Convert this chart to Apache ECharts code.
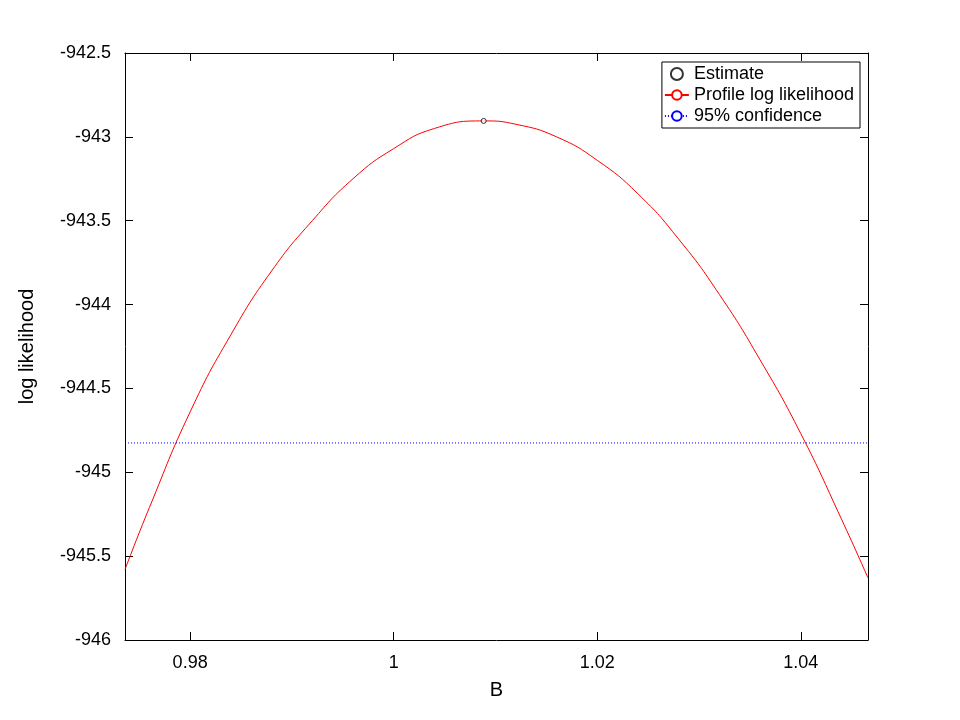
<!DOCTYPE html>
<html><head><meta charset="utf-8">
<script src="https://cdn.jsdelivr.net/npm/echarts@6/dist/echarts.min.js"></script>
<style>html,body{margin:0;padding:0;background:#fff}#c{width:960px;height:720px}</style>
</head><body><div id="c"></div>
<script>
const bValues = [0.9736,0.976,0.980,0.984,0.988,0.992,0.996,1.000,1.004,1.00884,1.012,1.016,1.020,1.024,1.028,1.032,1.036,1.040,1.044,1.0466];
const logLik = [-945.58,-945.21,-944.64,-944.18,-943.80,-943.50,-943.25,-943.07,-942.95,-942.905,-942.925,-943.00,-943.14,-943.34,-943.61,-943.94,-944.33,-944.77,-945.28,-945.63];
const estimate = [1.00884, -942.905];
const confLevel = -944.825;
const xRange = [0.9736, 1.0466];
const xTicks = [0.98, 1.00, 1.02, 1.04];
const yRange = [-946, -942.5];

const font = 'Liberation Sans, Arial, sans-serif';
const axisCommon = {
  axisLine:{show:true,onZero:false,lineStyle:{color:'#000',width:1}},
  axisTick:{show:true,inside:true,length:8,lineStyle:{color:'#000'}},
  splitLine:{show:false}
};
const chart = echarts.init(document.getElementById('c'));
chart.setOption({
  animation:false,
  backgroundColor:'#fff',
  grid:{left:125,right:92,top:53,bottom:80},
  legend:{
    right:100, top:62, orient:'vertical', itemGap:3, itemWidth:24, itemHeight:12,
    borderColor:'#000', borderWidth:1, padding:[3,6,3,2], borderRadius:0,
    textStyle:{fontFamily:font,fontSize:18,color:'#000'},
    data:[{name:'Estimate',icon:'circle'},{name:'Profile log likelihood'},{name:'95% confidence'}]
  },
  xAxis:[
    Object.assign({type:'value',min:xRange[0],max:xRange[1],name:'B',nameLocation:'middle',nameGap:40,
      nameTextStyle:{fontFamily:font,fontSize:20,color:'#000'},
      axisLabel:{customValues:xTicks,fontFamily:font,fontSize:18,color:'#000',margin:14,formatter:v=>String(+v.toFixed(2))}},axisCommon,
      {axisTick:Object.assign({},axisCommon.axisTick,{customValues:xTicks})}),
    Object.assign({type:'value',position:'top',min:xRange[0],max:xRange[1],axisLabel:{show:false}},axisCommon,
      {axisTick:Object.assign({},axisCommon.axisTick,{customValues:xTicks})})
  ],
  yAxis:[
    Object.assign({type:'value',min:yRange[0],max:yRange[1],interval:0.5,name:'log likelihood',nameLocation:'middle',nameGap:88,
      nameTextStyle:{fontFamily:font,fontSize:20,color:'#000'},
      axisLabel:{fontFamily:font,fontSize:18,color:'#000',margin:14}},axisCommon),
    Object.assign({type:'value',position:'right',min:yRange[0],max:yRange[1],interval:0.5,axisLabel:{show:false}},axisCommon)
  ],
  series:[
    {name:'Estimate',type:'scatter',data:[estimate],symbol:'circle',symbolSize:5,
      itemStyle:{color:'#fff',borderColor:'#000',borderWidth:1},z:5},
    {name:'Profile log likelihood',type:'line',smooth:true,showSymbol:false,
      data:bValues.map((b,i)=>[b,logLik[i]]),lineStyle:{color:'#ff0000',width:1},itemStyle:{color:'#ff0000'}},
    {name:'95% confidence',type:'line',showSymbol:false,
      data:[[xRange[0],confLevel],[xRange[1],confLevel]],lineStyle:{color:'#0000ff',width:1,type:[1,2]},itemStyle:{color:'#0000ff'}}
  ]
});
</script></body></html>
